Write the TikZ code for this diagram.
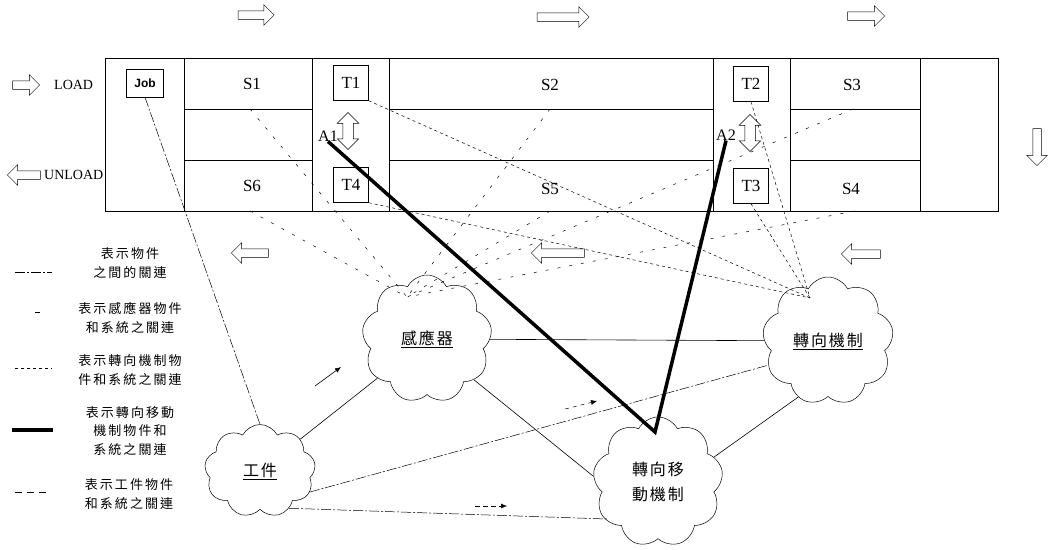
\documentclass[tikz,border=0pt]{standalone}
\usepackage{fontspec}
\setmainfont{Liberation Serif}
\newfontfamily\cjkc[LetterSpace=12]{Noto Sans CJK TC}
\newfontfamily\cjkl[LetterSpace=16]{Noto Sans CJK TC}
\newfontfamily\jobfont{Liberation Sans}
\usetikzlibrary{shapes.symbols,shapes.arrows,arrows.meta,calc}
\begin{document}
\begin{tikzpicture}[x=1pt,y=-1pt,
  box/.style={draw, line width=0.6pt},
  seclbl/.style={font=\fontsize{17}{17}\selectfont, inner sep=0pt},
  sidelbl/.style={font=\fontsize{14}{14}\selectfont, inner sep=0pt},
  tbox/.style={draw, line width=0.5pt, minimum width=35pt, minimum height=35pt, inner sep=0pt, font=\fontsize{17}{17}\selectfont},
  cloudn/.style={cloud, draw, cloud puffs=9, cloud puff arc=125, aspect=1, inner sep=0pt, line width=0.5pt, font=\cjkc\fontsize{16}{25}\selectfont, align=center},
  harrow/.style={single arrow, draw, line width=0.5pt, inner sep=4pt, single arrow head extend=6pt},
  varrow/.style={double arrow, draw, line width=0.5pt, inner sep=5pt, double arrow head extend=5.5pt, shape border rotate=90, minimum height=37pt},
  objrel/.style={line width=0.5pt, dash pattern=on 10pt off 2pt on 2pt off 2pt},
  sensrel/.style={line width=0.5pt, dash pattern=on 3pt off 9pt},
  dirrel/.style={line width=0.5pt, dash pattern=on 3pt off 3pt},
  workrel/.style={line width=0.5pt, dash pattern=on 7pt off 5pt},
  movrel/.style={line width=3.5pt},
  solidrel/.style={line width=0.6pt},
  legtxt/.style={font=\cjkl\fontsize{13}{18.5}\selectfont, align=center, inner sep=0pt},
]
\useasboundingbox (0,0) rectangle (1049,549);

% ---- main layout box ----
\draw[box] (105,58) rectangle (998,211);
\foreach \x in {184,312,389,713,790,920} \draw[box] (\x,58) -- (\x,211);
\foreach \a/\b in {184/312,389/713,790/920} {
  \draw[box] (\a,109) -- (\b,109);
  \draw[box] (\a,160) -- (\b,160);
}

% ---- labels in sections ----
\node[draw, line width=0.6pt, minimum width=37pt, minimum height=28pt, inner sep=0pt, font=\jobfont\bfseries\fontsize{12}{12}\selectfont] (job) at (145,83) {Job};
\node[seclbl] (S1) at (252,84) {S1};
\node[seclbl] (S6) at (252,186) {S6};
\node[seclbl] (S2) at (550,85) {S2};
\node[seclbl] (S5) at (550,189) {S5};
\node[seclbl] (S3) at (852,85) {S3};
\node[seclbl] (S4) at (851,189) {S4};
\node[tbox] (T1) at (351,83) {T1};
\node[tbox] (T4) at (351,185) {T4};
\node[tbox] (T2) at (751,84) {T2};
\node[tbox] (T3) at (751,186) {T3};
\node[font=\fontsize{16}{16}\selectfont, inner sep=0pt] (A1) at (328,136) {A1};
\node[font=\fontsize{16}{16}\selectfont, inner sep=0pt] (A2) at (726,135) {A2};
\node[varrow] (va1) at (348,131) {};
\node[varrow] (va2) at (750,133) {};

% ---- side labels ----
\node[harrow, minimum height=27pt] (arL) at (24,85) {};
\node[sidelbl, anchor=west] (load) at (54,85) {LOAD};
\node[harrow, minimum height=33pt, shape border rotate=180] (arU) at (26,175) {};
\node[sidelbl, anchor=west] (unload) at (44,175) {UNLOAD};

% ---- flow arrows ----
\node[harrow, minimum height=36pt] (ar1) at (254,15) {};
\node[harrow, minimum height=52pt] (ar2) at (561,17) {};
\node[harrow, minimum height=37pt] (ar3) at (864,16) {};
\node[harrow, minimum height=37pt, shape border rotate=270] (ar4) at (1037,145) {};
\node[harrow, minimum height=37pt, shape border rotate=180] (ar5) at (252,253) {};
\node[harrow, minimum height=53pt, shape border rotate=180] (ar6) at (560,253) {};
\node[harrow, minimum height=39pt, shape border rotate=180] (ar7) at (863,254) {};

% ---- clouds ----
\node[cloudn, minimum width=130pt, minimum height=128pt] (sensor) at (427,339) {\underline{感應器}};
\node[cloudn, minimum width=131pt, minimum height=128pt] (dir) at (828,341) {\underline{轉向機制}};
\node[cloudn, minimum width=111pt, minimum height=93pt] (work) at (260,471) {\underline{工件}};
\node[cloudn, minimum width=130pt, minimum height=130pt] (move) at (658,482) {轉向移\\動機制};

% ---- anchor points ----
\coordinate (sensTop) at (407,297);
\coordinate (dirTop) at (810,298);
\coordinate (moveTop) at (655,432);
\coordinate (s1p) at (250,109);
\coordinate (s6p) at (250,211);
\coordinate (s2p) at (550,109);
\coordinate (s5p) at (550,211);
\coordinate (s3p) at (853,109);
\coordinate (s4p) at (855,211);
\coordinate (moveL) at (607,519);

% ---- sensor relations ----
\foreach \p in {s1p,s6p,s2p,s5p,s3p,s4p} \draw[sensrel] (\p) -- (sensTop);

% ---- direction mechanism relations ----
\draw[dirrel] (T1.south east) -- (dirTop);
\draw[dirrel] (T4.south east) -- (dirTop);
\draw[dirrel] (T2.south) -- (dirTop);
\draw[dirrel] (T3.south) -- (dirTop);

% ---- moving mechanism relations ----
\draw[movrel] (A1.south) -- (moveTop) -- (A2.south);

% ---- object relations ----
\draw[objrel] (job.south) -- (work.north);
\draw[solidrel] (work) -- (sensor);
\draw[solidrel] (sensor) -- (dir);
\draw[solidrel] (sensor.-41) -- (move.175);
\draw[solidrel] (move.24) -- (dir.-118);
\draw[objrel] (work.-23) -- (dir.-158);
\draw[objrel] (work.-52) -- (moveL);

% ---- small direction arrows ----
\coordinate (m1a) at (315,386); \coordinate (m1b) at (341,367);
\draw[solidrel, -{Latex[length=6pt,width=5pt]}] (m1a) -- (m1b);
\coordinate (m2a) at (565,409); \coordinate (m2b) at (597,401);
\draw[workrel, dash pattern=on 4pt off 4pt, -{Latex[length=6pt,width=5pt]}] (m2a) -- (m2b);
\coordinate (m3a) at (475,506); \coordinate (m3b) at (507,506);
\draw[workrel, dash pattern=on 5pt off 3pt, -{Latex[length=6pt,width=5pt]}] (m3a) -- (m3b);

% ---- legend ----
\coordinate (l1a) at (15,272); \coordinate (l1b) at (52,272);
\draw[objrel] (l1a) -- (l1b);
\node[legtxt] (t1) at (130,263) {表示物件\\之間的關連};
\coordinate (l2a) at (35,312); \coordinate (l2b) at (40,312);
\draw[line width=0.5pt] (l2a) -- (l2b);
\node[legtxt] (t2) at (130,318) {表示感應器物件\\和系統之關連};
\coordinate (l3a) at (15,368); \coordinate (l3b) at (52,368);
\draw[dirrel] (l3a) -- (l3b);
\node[legtxt] (t3) at (130,370) {表示轉向機制物\\件和系統之關連};
\coordinate (l4a) at (12,430); \coordinate (l4b) at (53,430);
\draw[movrel] (l4a) -- (l4b);
\node[legtxt] (t4) at (130,431) {表示轉向移動\\機制物件和\\系統之關連};
\coordinate (l5a) at (15,492); \coordinate (l5b) at (50,492);
\draw[workrel] (l5a) -- (l5b);
\node[legtxt] (t5) at (129,494) {表示工件物件\\和系統之關連};
\end{tikzpicture}
\end{document}
